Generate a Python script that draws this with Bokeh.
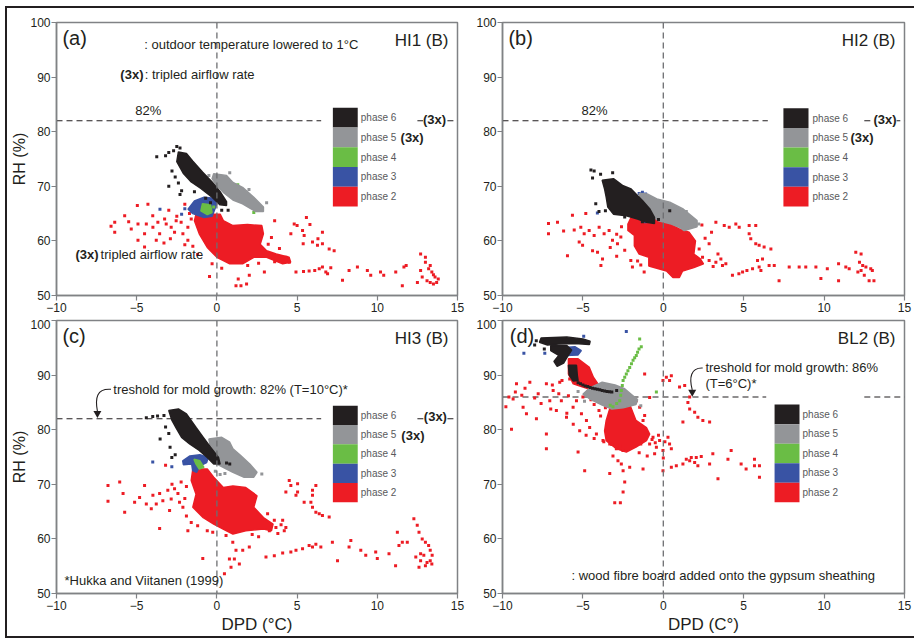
from bokeh.plotting import figure
from bokeh.layouts import gridplot
from bokeh.models import Range1d, FixedTicker, Label, Span, Title
from bokeh.embed import file_html
from bokeh.resources import INLINE
from bokeh.core.properties import value

FONT = "Liberation Sans"
TXT = "#231f20"
AXC = "#808285"

PHASES = ["phase 6", "phase 5", "phase 4", "phase 3", "phase 2"]
PHASE_COLORS = ["#231f20", "#939598", "#6abd45", "#3953a4", "#ed1c24"]
X_TICKS = [-10, -5, 0, 5, 10, 15]
Y_TICKS = [50, 60, 70, 80, 90, 100]
THRESH_HI = 82
THRESH_BL = 86

# ---------------- panel (a) HI1 ----------------
A_P2_CORE = [[(-1.3, 64.9), (0.2, 64.9), (0.4, 63.7), (1.0, 62.8), (1.9, 63.0), (2.8, 62.8), (2.9, 61.3), (2.7, 59.4), (3.1, 58.2), (3.7, 57.6), (4.5, 57.0), (4.6, 56.1), (4.1, 55.8), (3.1, 57.0), (2.3, 57.0), (1.6, 55.8), (0.8, 55.8), (0.0, 57.0), (-0.6, 58.8), (-1.1, 61.3), (-1.4, 63.7)]]
A_P2_PTS = [(-4.96, 66.5), (-4.3, 66.7), (-5.75, 64.6), (-6.37, 63.4), (-6.37, 61.6), (-5.34, 62.2), (-4.92, 63.1), (-4.51, 61.3), (-4.4, 63.1), (-3.99, 62.5), (-3.68, 63.4), (-3.26, 64.0), (-3.16, 63.1), (-3.57, 61.3), (-3.78, 60.1), (-4.92, 60.1), (-4.51, 58.9), (-2.85, 62.5), (-2.64, 61.6), (-2.54, 63.7), (-2.23, 63.4), (-2.12, 61.3), (-1.81, 62.5), (-1.71, 65.0), (-1.81, 60.1), (-2.0, 66.7), (-2.5, 64.5), (-1.5, 59.0), (-1.2, 57.5), (-0.46, 53.5), (1.92, 55.5), (1.19, 51.8), (1.5, 51.8), (2.02, 53.7), (2.96, 54.3), (1.33, 53.0), (1.85, 52.1), (4.82, 63.1), (5.0, 62.8), (5.34, 61.9), (5.44, 61.0), (4.61, 61.3), (5.96, 59.8), (6.27, 59.2), (6.58, 59.5), (7.0, 58.5), (7.31, 58.2), (6.58, 61.6), (5.38, 59.5), (4.3, 57.0), (4.51, 56.1), (3.6, 63.7), (5.58, 64.3), (4.93, 54.3), (5.75, 54.5), (6.38, 54.9), (6.79, 54.3), (6.58, 55.2), (7.1, 55.1), (6.1, 54.6), (6.9, 54.0), (5.4, 54.4), (8.24, 54.6), (8.76, 55.2), (9.38, 54.6), (10.2, 54.3), (10.4, 53.7), (11.15, 54.3), (11.66, 55.2), (11.56, 51.8), (9.59, 53.7), (7.83, 52.8), (12.7, 57.6), (13.0, 57.0), (13.0, 56.1), (13.2, 54.9), (13.4, 54.3), (13.6, 53.4), (13.7, 52.4), (13.5, 52.1), (13.1, 52.7), (12.8, 53.4), (12.7, 54.6), (13.3, 52.4), (13.8, 53.0), (12.5, 52.4), (11.8, 55.5), (13.3, 55.5), (13.5, 53.8),
            (-3.3, 59.6), (-2.9, 60.4), (-2.0, 59.3), (-1.6, 64.0), (-5.5, 63.5), (-6.6, 62.7), (-4.0, 64.6), (-3.0, 65.6), (-1.1, 66.9), (3.4, 60.6), (3.2, 59.4), (3.9, 58.6), (0.3, 55.0), (-0.3, 55.8), (2.6, 55.9), (3.6, 56.2), (5.8, 63.0), (6.3, 60.4)]
A_P3_CORE = [[(-1.8, 65.8), (-1.4, 67.3), (-0.8, 68.0), (-0.2, 67.8), (0.0, 66.8), (-0.3, 64.5), (-0.8, 64.3), (-1.5, 65.0)]]
A_P3_PTS = [(-3.55, 65.8), (-2.2, 64.9), (-2.0, 65.9), (0.1, 67.5), (-0.1, 72.0)]
A_P4_CORE = [[(-0.9, 66.8), (-0.4, 66.6), (-0.3, 65.2), (-0.6, 64.8), (-1.0, 65.5)]]
A_P4_PTS = [(1.3, 70.3), (2.3, 65.2), (-0.2, 66.2)]
A_P5_CORE = [[(-0.2, 72.3), (0.6, 72.0), (1.0, 70.7), (1.6, 69.8), (2.3, 68.0), (2.9, 66.2), (2.9, 65.4), (2.4, 65.4), (1.6, 66.8), (1.0, 67.5), (0.4, 68.9), (0.0, 70.1), (-0.3, 71.4)]]
A_P5_PTS = [(3.1, 67.0), (1.3, 67.9), (0.8, 72.5), (-0.5, 72.0), (2.0, 69.4)]
A_P6_CORE = [[(-2.4, 76.3), (-1.9, 76.0), (-1.5, 74.6), (-0.9, 72.6), (-0.3, 70.8), (0.2, 69.0), (0.6, 67.2), (0.6, 66.5), (0.2, 66.6), (-0.3, 68.0), (-1.0, 69.6), (-1.6, 70.8), (-2.1, 72.4), (-2.5, 74.5)]]
A_P6_PTS = [(-3.75, 75.4), (-3.2, 75.6), (-3.0, 76.2), (-2.7, 76.5), (-2.5, 77.3), (-2.3, 77.0), (-2.8, 72.8), (-3.0, 70.0), (-2.2, 69.2), (-2.3, 68.5), (-1.4, 69.0), (-0.7, 67.8), (0.3, 65.6), (0.7, 65.6), (-0.4, 67.0), (-2.6, 71.7), (-2.4, 70.6)]

# ---------------- panel (b) HI2 ----------------
B_P2_CORE = [[(-2.0, 64.3), (-0.9, 64.6), (0.0, 63.7), (1.0, 62.2), (1.6, 61.6), (2.0, 60.0), (1.9, 57.6), (2.3, 56.7), (2.5, 55.8), (1.9, 55.1), (1.2, 54.5), (1.0, 53.3), (0.6, 53.3), (0.2, 54.5), (-0.9, 55.4), (-0.9, 57.0), (-1.5, 57.6), (-1.8, 59.1), (-1.8, 61.0), (-2.2, 61.9), (-2.2, 63.1)]]
B_P2_PTS = [(-5.65, 64.7), (-7.14, 63.2), (-6.58, 63.4), (-7.14, 61.3), (-6.2, 61.8), (-5.54, 62.0), (-5.13, 62.5), (-4.92, 61.3), (-4.61, 61.9), (-4.3, 61.0), (-3.99, 62.5), (-3.68, 61.3), (-3.37, 61.9), (-5.23, 59.8), (-5.02, 59.2), (-4.4, 58.2), (-4.09, 57.9), (-5.96, 57.3), (-3.78, 56.7), (-3.88, 55.5), (-3.16, 60.1), (-2.85, 59.5), (-2.64, 60.7), (-2.02, 56.4), (-1.92, 55.2), (-1.19, 54.3), (-4.82, 65.0), (3.27, 63.4), (3.79, 62.8), (4.1, 62.5), (4.51, 63.1), (4.72, 62.5), (5.34, 62.8), (5.75, 62.8), (5.34, 61.3), (5.44, 60.4), (5.75, 59.5), (5.96, 59.2), (6.27, 58.9), (6.69, 58.5), (2.85, 59.5), (2.23, 58.5), (2.44, 57.0), (2.85, 56.4), (3.27, 56.1), (3.58, 56.7), (3.68, 55.5), (3.89, 55.8), (4.3, 53.7), (4.93, 54.3), (5.55, 54.9), (5.96, 55.2), (5.86, 56.4), (6.17, 56.7), (6.07, 54.6), (5.2, 54.6), (4.7, 54.0), (6.58, 55.5), (6.9, 55.5), (7.2, 52.7), (7.83, 55.2), (8.45, 55.2), (8.86, 55.2), (9.49, 55.2), (9.8, 53.1), (10.2, 54.9), (10.9, 55.8), (10.9, 52.7), (11.35, 55.2), (11.56, 54.9), (11.97, 57.9), (12.3, 57.6), (12.2, 56.1), (12.4, 55.5), (12.6, 55.2), (12.9, 54.9), (13.0, 54.6), (12.3, 54.6), (12.5, 53.7), (12.8, 52.7), (13.1, 52.7), (12.1, 54.3),
            (-2.6, 62.6), (-2.9, 61.2), (-2.4, 58.3), (-3.3, 58.8), (-2.9, 57.2), (-1.6, 56.3), (-1.4, 55.6), (2.6, 60.5), (3.0, 61.6), (2.4, 62.9), (3.4, 57.6), (3.1, 55.3)]
B_P3_CORE = []
B_P3_PTS = [(-1.5, 68.7), (-1.3, 68.9), (-1.1, 68.6), (-1.6, 67.5), (-1.4, 66.3), (-1.2, 65.9), (-0.8, 65.3), (-0.6, 65.1), (-1.5, 64.4), (-1.3, 63.6), (-1.1, 63.5), (-0.9, 64.6), (-4.1, 65.1), (-1.4, 67.9), (-1.0, 64.0)]
B_P4_CORE = []
B_P4_PTS = [(-1.3, 66.2), (-1.2, 65.6), (-1.0, 65.8), (-1.1, 66.6)]
B_P5_CORE = [[(-1.5, 68.7), (-1.0, 68.6), (-0.4, 67.7), (0.4, 67.1), (1.2, 65.9), (2.1, 63.7), (2.1, 62.6), (1.3, 61.9), (1.0, 62.5), (0.5, 63.1), (-0.3, 63.7), (-0.9, 64.9), (-1.4, 66.8)]]
B_P5_PTS = [(1.43, 65.4), (1.95, 63.0), (2.2, 63.1)]
B_P6_CORE = [[(-3.8, 71.1), (-3.1, 71.4), (-2.5, 70.1), (-2.0, 69.5), (-1.7, 68.6), (-1.3, 67.4), (-0.85, 65.9), (-0.55, 64.3), (-0.55, 63.2), (-1.05, 63.4), (-1.6, 64.0), (-2.3, 64.6), (-3.1, 64.9), (-3.45, 66.2), (-3.55, 68.0), (-3.65, 69.5)]]
B_P6_PTS = [(-4.5, 73.0), (-4.3, 72.8), (-3.9, 72.2), (-3.15, 72.5), (-4.2, 66.8), (-4.0, 65.4), (-3.6, 65.5), (-2.4, 64.4), (-1.3, 63.5), (0.4, 65.5), (-0.3, 63.9), (-4.4, 71.5)]

# ---------------- panel (c) HI3 ----------------
C_P2_CORE = [[(-1.5, 72.8), (-0.6, 72.8), (-0.2, 71.3), (0.4, 69.4), (1.0, 69.7), (1.8, 69.4), (2.5, 67.9), (2.3, 65.8), (2.9, 63.9), (3.5, 62.7), (3.4, 61.5), (2.9, 61.8), (1.8, 61.5), (1.0, 60.9), (0.6, 61.5), (-0.2, 62.7), (-0.85, 63.9), (-1.5, 65.8), (-1.3, 68.2), (-1.6, 70.7)]]
C_P2_PTS = [(-6.79, 69.8), (-6.06, 70.4), (-6.79, 66.9), (-5.75, 64.9), (-5.85, 68.3), (-5.13, 66.7), (-4.82, 67.6), (-4.51, 69.8), (-4.4, 66.4), (-3.99, 68.0), (-3.78, 66.4), (-3.57, 68.3), (-3.37, 67.0), (-3.06, 68.9), (-2.85, 67.3), (-2.64, 69.2), (-2.43, 68.3), (-2.33, 66.7), (-2.23, 70.4), (-4.09, 65.5), (-3.57, 61.9), (-2.95, 65.2), (-2.12, 65.8), (-1.81, 61.5), (-0.88, 56.4), (0.47, 53.6), (-0.26, 61.2), (0.57, 60.6), (0.99, 59.4), (1.19, 57.9), (1.09, 56.3), (0.78, 56.3), (1.4, 55.4), (0.88, 54.8), (1.61, 57.9), (2.02, 58.5), (3.06, 56.7), (3.27, 61.5), (3.68, 62.1), (4.1, 63.4), (4.3, 62.1), (4.2, 61.5), (3.58, 63.4), (3.16, 64.6), (4.3, 68.6), (4.61, 69.8), (5.03, 70.1), (5.03, 68.6), (4.93, 68.0), (4.51, 70.7), (5.96, 68.9), (6.17, 69.8), (5.96, 68.0), (5.86, 66.7), (5.96, 65.8), (6.17, 64.9), (6.38, 64.6), (6.58, 64.3), (7.0, 64.0), (5.44, 66.7), (4.61, 57.6), (4.93, 57.9), (5.34, 58.2), (5.75, 58.8), (6.17, 59.0), (6.48, 58.5), (5.96, 58.5), (3.58, 56.9), (4.1, 57.4), (7.2, 59.4), (7.52, 56.0), (8.35, 59.7), (8.24, 58.5), (8.97, 57.9), (9.28, 57.0), (9.9, 57.6), (10.0, 56.4), (10.73, 57.3), (11.14, 55.1), (11.25, 61.2), (11.35, 58.8), (11.56, 59.4), (11.87, 59.4), (12.28, 63.7), (12.49, 62.5), (12.6, 61.2), (12.8, 60.0), (13.0, 59.4), (13.2, 58.8), (13.3, 57.9), (13.42, 57.0), (13.3, 56.0), (13.0, 55.1), (12.7, 56.0), (12.4, 56.7), (12.7, 57.3), (12.9, 57.0), (13.1, 55.7), (12.6, 54.8), (13.4, 55.4), (-1.1, 73.8), (-3.2, 73.5), (-2.8, 70.0),
            (-1.9, 69.6), (-2.0, 67.4), (-1.9, 64.2), (-1.6, 63.0), (-1.2, 62.4), (-0.6, 61.5), (3.8, 61.0), (4.0, 62.6), (2.6, 60.4), (2.2, 60.8)]
C_P3_CORE = [[(-2.13, 74.3), (-1.68, 75.2), (-1.06, 75.4), (-0.54, 74.9), (-0.64, 74.0), (-1.06, 73.4), (-1.26, 72.2), (-1.51, 72.5), (-1.57, 73.7), (-2.09, 73.6)]]
C_P3_PTS = [(-4.0, 74.1), (-2.81, 73.2)]
C_P4_CORE = [[(-1.43, 74.6), (-1.06, 74.3), (-0.81, 73.1), (-1.1, 72.8), (-1.3, 73.7)]]
C_P4_PTS = [(0.7, 77.0), (1.9, 72.3)]
C_P5_CORE = [[(-0.5, 78.3), (0.3, 78.6), (0.8, 77.7), (1.0, 76.5), (1.5, 75.2), (2.05, 73.7), (2.5, 72.2), (2.3, 71.3), (1.7, 71.3), (1.0, 72.2), (0.6, 72.8), (0.0, 73.7), (-0.2, 74.9), (-0.4, 76.8)]]
C_P5_PTS = [(0.5, 72.0), (0.2, 71.8), (-0.1, 72.4), (2.8, 71.9)]
C_P6_CORE = [[(-3.0, 83.5), (-2.4, 83.8), (-1.9, 82.9), (-1.3, 80.4), (-0.85, 78.6), (-0.4, 76.8), (0.1, 74.9), (0.2, 73.7), (-0.2, 73.7), (-0.6, 74.9), (-1.1, 76.2), (-1.7, 77.4), (-2.2, 78.6), (-2.5, 80.1), (-2.8, 81.7)]]
C_P6_PTS = [(-4.4, 82.2), (-4.0, 82.4), (-3.7, 82.5), (-3.3, 82.6), (-3.54, 78.3), (-2.92, 76.8), (-2.81, 74.9), (-2.6, 75.4), (0.6, 73.9), (0.8, 73.7), (-3.2, 80.5), (-3.0, 79.3)]

# ---------------- panel (d) BL2 ----------------
D_P2_CORE = [[(-5.9, 93.0), (-5.3, 93.0), (-4.6, 91.4), (-4.35, 89.6), (-4.0, 88.1), (-4.35, 87.2), (-5.0, 87.8), (-5.6, 88.4), (-5.9, 90.2)],
             [(-3.3, 84.1), (-2.1, 84.7), (-1.7, 81.7), (-1.05, 80.4), (-0.85, 79.2), (-1.05, 78.0), (-1.7, 76.8), (-2.3, 75.9), (-2.9, 76.5), (-3.55, 78.0), (-3.65, 79.8), (-3.55, 81.7)]]
D_P2_PTS = [(-9.44, 80.1), (-9.79, 84.2), (-9.13, 88.4), (-8.3, 88.7), (-7.27, 88.4), (-9.34, 85.6), (-8.72, 84.1), (-8.51, 82.9), (-7.89, 82.0), (-7.27, 79.2), (-7.27, 76.5), (-7.78, 86.6), (-6.85, 87.2), (-6.44, 88.7), (-5.82, 89.3), (-7.06, 85.3), (-6.65, 83.5), (-6.02, 82.3), (-5.3, 75.9), (-4.89, 72.5), (-6.34, 85.3), (-5.61, 84.1), (-5.4, 85.3), (-5.09, 82.9), (-4.78, 81.7), (-4.58, 80.4), (-4.16, 79.2), (-3.75, 78.0), (-3.33, 77.4), (-2.92, 76.5), (-2.51, 76.2), (-3.13, 75.2), (-2.82, 74.3), (-2.61, 73.7), (-2.5, 72.5), (-2.4, 70.4), (-2.5, 68.6), (-3.02, 66.6), (-2.67, 66.6), (-3.33, 72.0), (-2.09, 73.1), (-1.26, 72.8), (-0.85, 77.4), (-0.64, 78.6), (-0.43, 76.8), (-0.23, 78.0), (0.29, 78.6), (0.39, 77.4), (0.5, 76.5), (-0.02, 76.2), (-0.54, 75.6), (-1.16, 82.6), (-1.26, 81.7), (-1.47, 84.1), (-1.68, 85.3), (-0.85, 85.9), (-1.16, 90.2), (-0.02, 89.0), (0.19, 89.6), (0.5, 89.9), (0.39, 89.0), (1.01, 87.8), (1.33, 88.1), (1.64, 86.0), (1.53, 85.0), (1.64, 83.8), (1.95, 83.2), (2.15, 82.3), (2.46, 81.7), (2.88, 81.4), (1.22, 81.4), (-0.02, 72.5), (0.5, 73.1), (0.81, 73.4), (1.22, 73.7), (1.43, 74.6), (1.74, 74.9), (2.05, 74.9), (2.36, 75.1), (1.95, 74.0), (2.15, 73.4), (1.64, 74.3), (3.08, 75.6), (2.88, 73.7), (3.4, 71.0), (4.22, 76.2), (4.84, 73.7), (5.15, 72.8), (5.67, 74.6), (5.67, 73.4), (5.98, 73.4), (5.98, 71.3), (4.02, 74.6), (-6.0, 83.0), (-5.6, 81.0), (-5.2, 79.8), (-4.8, 79.0), (-4.3, 78.4), (-3.7, 77.8), (-3.2, 77.3), (-2.7, 77.0), (-8.0, 85.8), (-8.8, 86.3), (-9.6, 86.0), (-7.6, 84.8), (-7.0, 83.8), (-6.5, 86.6), (-5.9, 86.2), (-5.0, 86.0), (-4.5, 85.5), (-4.3, 84.6), (-4.0, 83.5), (-3.9, 82.5), (-0.3, 79.0), (-0.5, 77.6), (0.1, 77.8), (-0.7, 78.2), (-1.0, 75.2), (-1.5, 75.8), (0.0, 74.8),
            (-6.3, 89.0), (-6.9, 88.2), (-8.6, 87.6), (-9.2, 86.9), (-4.7, 86.9), (-3.8, 85.1), (-3.6, 84.0), (-1.2, 79.5), (-1.4, 77.4)]
D_P3_CORE = [[(-6.7, 94.9), (-5.5, 95.2), (-5.1, 94.5), (-5.3, 93.7), (-6.1, 93.6), (-6.6, 94.0)]]
D_P3_PTS = [(-8.67, 94.0), (-7.37, 94.0), (-4.95, 97.1), (-2.3, 98.0)]
D_P4_CORE = []
D_P4_PTS = [(-3.13, 84.2), (-2.9, 84.8), (-2.71, 85.3), (-2.65, 86.3), (-2.61, 87.2), (-2.55, 88.1), (-2.5, 89.0), (-2.4, 89.6), (-2.3, 90.2), (-2.2, 90.8), (-2.09, 91.4), (-1.98, 92.1), (-1.88, 92.7), (-1.78, 93.2), (-1.68, 93.6), (-1.6, 94.2), (-1.51, 94.8), (-1.37, 95.2), (-1.47, 96.6), (-0.43, 86.9), (-3.3, 84.5)]
D_P5_CORE = [[(-4.6, 87.6), (-3.8, 88.7), (-3.0, 88.2), (-2.4, 87.5), (-2.0, 86.5), (-1.6, 85.5), (-1.7, 84.6), (-2.5, 84.0), (-3.2, 83.8), (-3.8, 84.5), (-4.5, 85.5), (-5.0, 86.5)]]
D_P5_PTS = [(-5.3, 87.0), (-1.4, 84.4), (-4.9, 85.2)]
D_P6_CORE = [[(-7.6, 96.8), (-6.0, 97.0), (-5.0, 96.6), (-4.55, 96.2), (-4.6, 95.6), (-5.5, 95.8), (-6.5, 95.7), (-7.2, 95.5), (-7.7, 96.0)],
             [(-7.0, 95.4), (-6.0, 95.4), (-5.7, 94.6), (-6.0, 93.2), (-6.2, 92.2), (-6.6, 91.6), (-6.8, 92.5), (-6.5, 93.6), (-7.0, 94.5)],
             [(-5.9, 91.8), (-5.4, 91.8), (-5.35, 90.0), (-5.3, 89.0), (-5.6, 88.9), (-5.85, 90.0)]]
D_P6_PTS = [(-5.3, 88.6), (-5.0, 88.2), (-4.7, 87.9), (-4.4, 87.6), (-4.1, 87.4), (-3.8, 87.2), (-3.5, 87.0), (-3.2, 86.9), (-2.9, 87.2), (-7.9, 96.3), (-8.0, 95.5), (-7.4, 94.8), (-5.15, 88.4), (-4.85, 88.0), (-4.55, 87.75), (-4.25, 87.5), (-3.95, 87.3), (-3.65, 87.1), (-3.35, 86.95)]


def base_fig(width, height, bl, br, bt, bb, ylabel=None, xlabel=None):
    p = figure(width=width, height=height, x_range=Range1d(-10, 15), y_range=Range1d(50, 100),
               output_backend="svg", toolbar_location=None,
               min_border_left=bl, min_border_right=br, min_border_top=bt, min_border_bottom=bb)
    p.xaxis.ticker = FixedTicker(ticks=X_TICKS)
    p.yaxis.ticker = FixedTicker(ticks=Y_TICKS)
    for ax in (p.xaxis, p.yaxis):
        ax.axis_line_color = AXC
        ax.axis_line_width = 1.5
        ax.major_tick_line_color = AXC
        ax.major_tick_line_width = 1.2
        ax.major_tick_out = 5
        ax.major_tick_in = 0
        ax.minor_tick_out = 0
        ax.minor_tick_in = 0
        ax.major_label_text_font = FONT
        ax.major_label_text_font_size = "12px"
        ax.major_label_text_color = TXT
        ax.major_label_standoff = 2
        ax.axis_label_text_font = FONT
        ax.axis_label_text_font_size = "17px"
        ax.axis_label_text_font_style = "normal"
        ax.axis_label_text_color = TXT
        ax.axis_label_standoff = 2
    p.yaxis.major_label_standoff = 1
    if ylabel:
        p.add_layout(Title(text=ylabel, align="center", text_font=FONT, text_font_size="16px",
                           text_font_style="normal", text_color=TXT, standoff=0, offset=0),
                     "left")
    if xlabel:
        p.xaxis.axis_label = xlabel
    p.xgrid.visible = False
    p.ygrid.visible = False
    p.outline_line_color = AXC
    p.outline_line_width = 1.5
    p.background_fill_color = "white"
    p.border_fill_color = "white"
    p.add_layout(Span(location=0, dimension="height", line_color="#6d6e71",
                      line_width=1.3, line_dash="6 4"))
    return p


def draw_phase(p, cores, pts, color):
    if cores:
        p.patches(xs=[[c[0] for c in poly] for poly in cores],
                  ys=[[c[1] for c in poly] for poly in cores],
                  fill_color=color, line_color=color, line_width=1.5)
    if pts:
        p.scatter([q[0] for q in pts], [q[1] for q in pts], marker="square", size=3,
                  fill_color=color, line_color=None)


def draw_data(p, p2, p3, p4, p5, p6, green_last=False):
    draw_phase(p, p2[0], p2[1], PHASE_COLORS[4])
    draw_phase(p, p3[0], p3[1], PHASE_COLORS[3])
    if not green_last:
        draw_phase(p, p4[0], p4[1], PHASE_COLORS[2])
    draw_phase(p, p5[0], p5[1], PHASE_COLORS[1])
    if green_last:
        draw_phase(p, p4[0], p4[1], PHASE_COLORS[2])
    draw_phase(p, p6[0], p6[1], PHASE_COLORS[0])


def draw_legend(p, x0, x1, ytop, ybot, tx):
    n = len(PHASES)
    h = (ytop - ybot) / n
    tops = [ytop - i * h for i in range(n)]
    p.quad(left=[x0] * n, right=[x1] * n, top=tops, bottom=[t - h for t in tops],
           fill_color=PHASE_COLORS, line_color=None)
    p.text(x=[tx] * n, y=[t - h / 2 for t in tops], text=PHASES,
           text_font=value(FONT), text_font_size="10px", text_color="#58595b",
           text_baseline="middle", text_align="left")


def lab(p, x, y, text, size="13px", bold=False, align="left", bg=None):
    kw = dict(x=x, y=y, text=text, text_font=FONT, text_font_size=size,
              text_font_style="bold" if bold else "normal", text_align=align,
              text_baseline="middle", text_color=TXT)
    if bg:
        kw["background_fill_color"] = bg
    p.add_layout(Label(**kw))


def thresh_line(p, yv, segs):
    for a, b in segs:
        p.segment(x0=[a], y0=[yv], x1=[b], y1=[yv], line_color=TXT, line_width=1.1,
                  line_dash="6 4")


def titles(p, letter, name, lx=-9.63):
    lab(p, lx, 97.2, letter, size="20px")
    lab(p, 14.44, 96.7, name, size="17px", align="right")


# ---------------- panel a ----------------
pa = base_fig(465, 311, 49, 15, 14, 24, ylabel="RH (%)")
thresh_line(pa, THRESH_HI, [(-10, 6.5), (12.5, 15)])
draw_data(pa, (A_P2_CORE, A_P2_PTS), (A_P3_CORE, A_P3_PTS), (A_P4_CORE, A_P4_PTS),
          (A_P5_CORE, A_P5_PTS), (A_P6_CORE, A_P6_PTS))
draw_legend(pa, 7.23, 8.78, 84.4, 66.3, 8.97)
titles(pa, "(a)", "HI1 (B)")
lab(pa, -4.53, 96.0, ": outdoor temperature lowered to 1°C")
lab(pa, -6.02, 90.5, "(3x)", bold=True)
lab(pa, -4.5, 90.5, ": tripled airflow rate")
lab(pa, -5.09, 83.9, "82%")
lab(pa, -8.82, 57.5, "(3x)", bold=True)
lab(pa, -7.25, 57.5, " tripled airflow rate")
lab(pa, 11.45, 78.9, "(3x)", bold=True)
lab(pa, 12.85, 82.3, "(3x)", bold=True, bg="white")

# ---------------- panel b ----------------
pb = base_fig(442, 311, 30, 10, 14, 24)
thresh_line(pb, THRESH_HI, [(-10, 6.5), (12.5, 15)])
draw_data(pb, (B_P2_CORE, B_P2_PTS), (B_P3_CORE, B_P3_PTS), (B_P4_CORE, B_P4_PTS),
          (B_P5_CORE, B_P5_PTS), (B_P6_CORE, B_P6_PTS))
draw_legend(pb, 7.47, 9.03, 84.3, 66.3, 9.28)
titles(pb, "(b)", "HI2 (B)")
lab(pb, -5.09, 83.9, "82%")
lab(pb, 11.64, 78.9, "(3x)", bold=True)
lab(pb, 13.07, 82.3, "(3x)", bold=True, bg="white")

# ---------------- panel c ----------------
pc = base_fig(465, 317, 49, 15, 1, 43, ylabel="RH (%)", xlabel="DPD (°C)")
thresh_line(pc, THRESH_HI, [(-10, 6.5), (12.5, 15)])
draw_data(pc, (C_P2_CORE, C_P2_PTS), (C_P3_CORE, C_P3_PTS), (C_P4_CORE, C_P4_PTS),
          (C_P5_CORE, C_P5_PTS), (C_P6_CORE, C_P6_PTS))
draw_legend(pc, 7.23, 8.78, 84.4, 66.7, 8.97)
titles(pc, "(c)", "HI3 (B)")
lab(pc, -6.46, 87.4, "treshold for mold growth: 82% (T=10°C)*")
pc.bezier(x0=[-6.6], y0=[87.4], x1=[-7.45], y1=[83.4], cx0=[-7.5], cy0=[87.6],
          cx1=[-7.6], cy1=[85.8], line_color=TXT, line_width=1.1)
pc.scatter([-7.45], [83.0], marker="inverted_triangle", size=8, fill_color=TXT, line_color=None)
lab(pc, -9.5, 52.4, "*Hukka and Viitanen (1999)")
lab(pc, 11.5, 78.9, "(3x)", bold=True)
lab(pc, 12.9, 82.5, "(3x)", bold=True, bg="white")

# ---------------- panel d ----------------
pd_ = base_fig(442, 317, 30, 10, 1, 43, xlabel="DPD (C°)")
thresh_line(pd_, THRESH_BL, [(-10, 6.4), (12.5, 15)])
draw_data(pd_, (D_P2_CORE, D_P2_PTS), (D_P3_CORE, D_P3_PTS), (D_P4_CORE, D_P4_PTS),
          (D_P5_CORE, D_P5_PTS), (D_P6_CORE, D_P6_PTS), green_last=True)
draw_legend(pd_, 6.92, 8.47, 84.6, 66.7, 8.66)
titles(pd_, "(d)", "BL2 (B)", lx=-9.55)
lab(pd_, 2.62, 91.4, "treshold for mold growth: 86%")
lab(pd_, 2.62, 88.5, "(T=6°C)*")
pd_.bezier(x0=[2.45], y0=[91.3], x1=[1.8], y1=[87.3], cx0=[1.7], cy0=[91.4],
           cx1=[1.6], cy1=[89.5], line_color=TXT, line_width=1.1)
pd_.scatter([1.8], [86.9], marker="inverted_triangle", size=8, fill_color=TXT, line_color=None)
lab(pd_, -5.71, 53.3, ": wood fibre board added onto the gypsum sheathing")

grid = gridplot([[pa, pb], [pc, pd_]], toolbar_location=None)
grid.styles = {"border-left": "2px solid #231f20", "border-top": "2px solid #231f20",
               "border-bottom": "2px solid #231f20", "margin-left": "5px", "margin-top": "6px"}

with open("out.html", "w", encoding="utf-8") as f:
    f.write(file_html(grid, INLINE))
